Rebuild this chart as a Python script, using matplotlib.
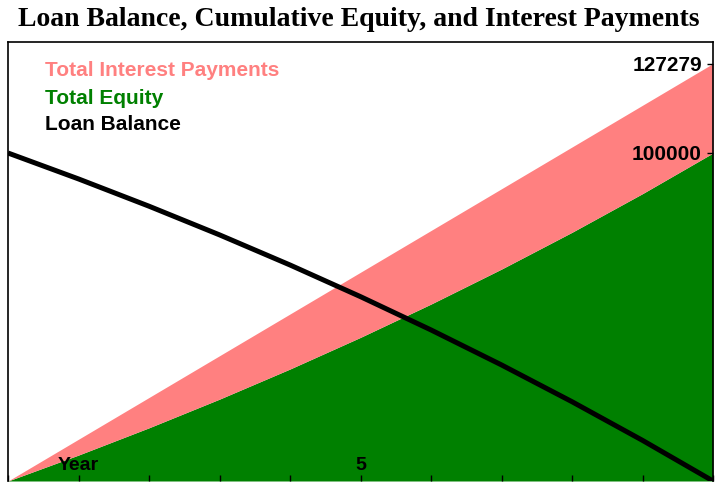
import matplotlib.pyplot as plt

# Amortization snapshot, one point per year
years = [0, 1, 2, 3, 4, 5, 6, 7, 8, 9, 10]
loan_balance = [100000, 92093, 83780, 75043, 65859, 56205, 46056, 35389, 24176, 12389, 0]
total_equity = [0, 7907, 16220, 24957, 34141, 43795, 53944, 64611, 75824, 87611, 100000]
total_interest = [0, 4821, 9236, 13227, 16771, 19845, 22424, 24484, 25999, 26940, 27279]
x_labels = ['', 'Year', '', '', '', '5', '', '', '', '', '']
y_ticks = [100000, 127279]
legend_labels = ['Total Interest Payments', 'Total Equity', 'Loan Balance']

PINK = '#ff8080'
GREEN = '#008000'

fig = plt.figure(figsize=(7.18, 4.83), dpi=100)
ax = fig.add_axes([8 / 718, 2 / 483, 705 / 718, 439 / 483])

stack_top = [e + i for e, i in zip(total_equity, total_interest)]
ax.fill_between(years, 0, total_equity, color=GREEN, lw=0)
ax.fill_between(years, total_equity, stack_top, color=PINK, lw=0)
ax.plot(years, loan_balance, color='black', lw=3.6, solid_capstyle='butt')

ax.set_xlim(0, 10)
ax.set_ylim(0, 133840)

ax.spines['bottom'].set_visible(False)
for side in ['left', 'top', 'right']:
    ax.spines[side].set_linewidth(1.2)

ax.set_xticks(years)
ax.set_xticklabels(x_labels)
ax.tick_params(axis='x', direction='in', length=4, width=1, pad=-17,
               labelsize=14, colors='black')
for lbl in ax.get_xticklabels():
    lbl.set_fontfamily('Liberation Sans')
    lbl.set_fontweight('bold')

ax.yaxis.tick_right()
ax.set_yticks(y_ticks)
ax.set_yticklabels([str(v) for v in y_ticks])
ax.tick_params(axis='y', direction='in', length=4, width=1, pad=-8,
               labelsize=15)
for lbl in ax.get_yticklabels():
    lbl.set_horizontalalignment('right')
    lbl.set_fontweight('bold')
    lbl.set_fontfamily('Liberation Sans')

# text-only legend, one coloured line per series
legend_y = [0.934, 0.872, 0.813]
for label, yy, c in zip(legend_labels, legend_y, [PINK, GREEN, 'black']):
    ax.text(37 / 705, yy, label, transform=ax.transAxes, color=c,
            ha='left', va='center', fontsize=15, fontweight='bold',
            family='Liberation Sans')

fig.text(0.5, 1 - 19 / 483, 'Loan Balance, Cumulative Equity, and Interest Payments',
         ha='center', va='center', fontsize=20, fontweight='bold',
         family='Liberation Serif')

fig.savefig('out.png', dpi=100)
